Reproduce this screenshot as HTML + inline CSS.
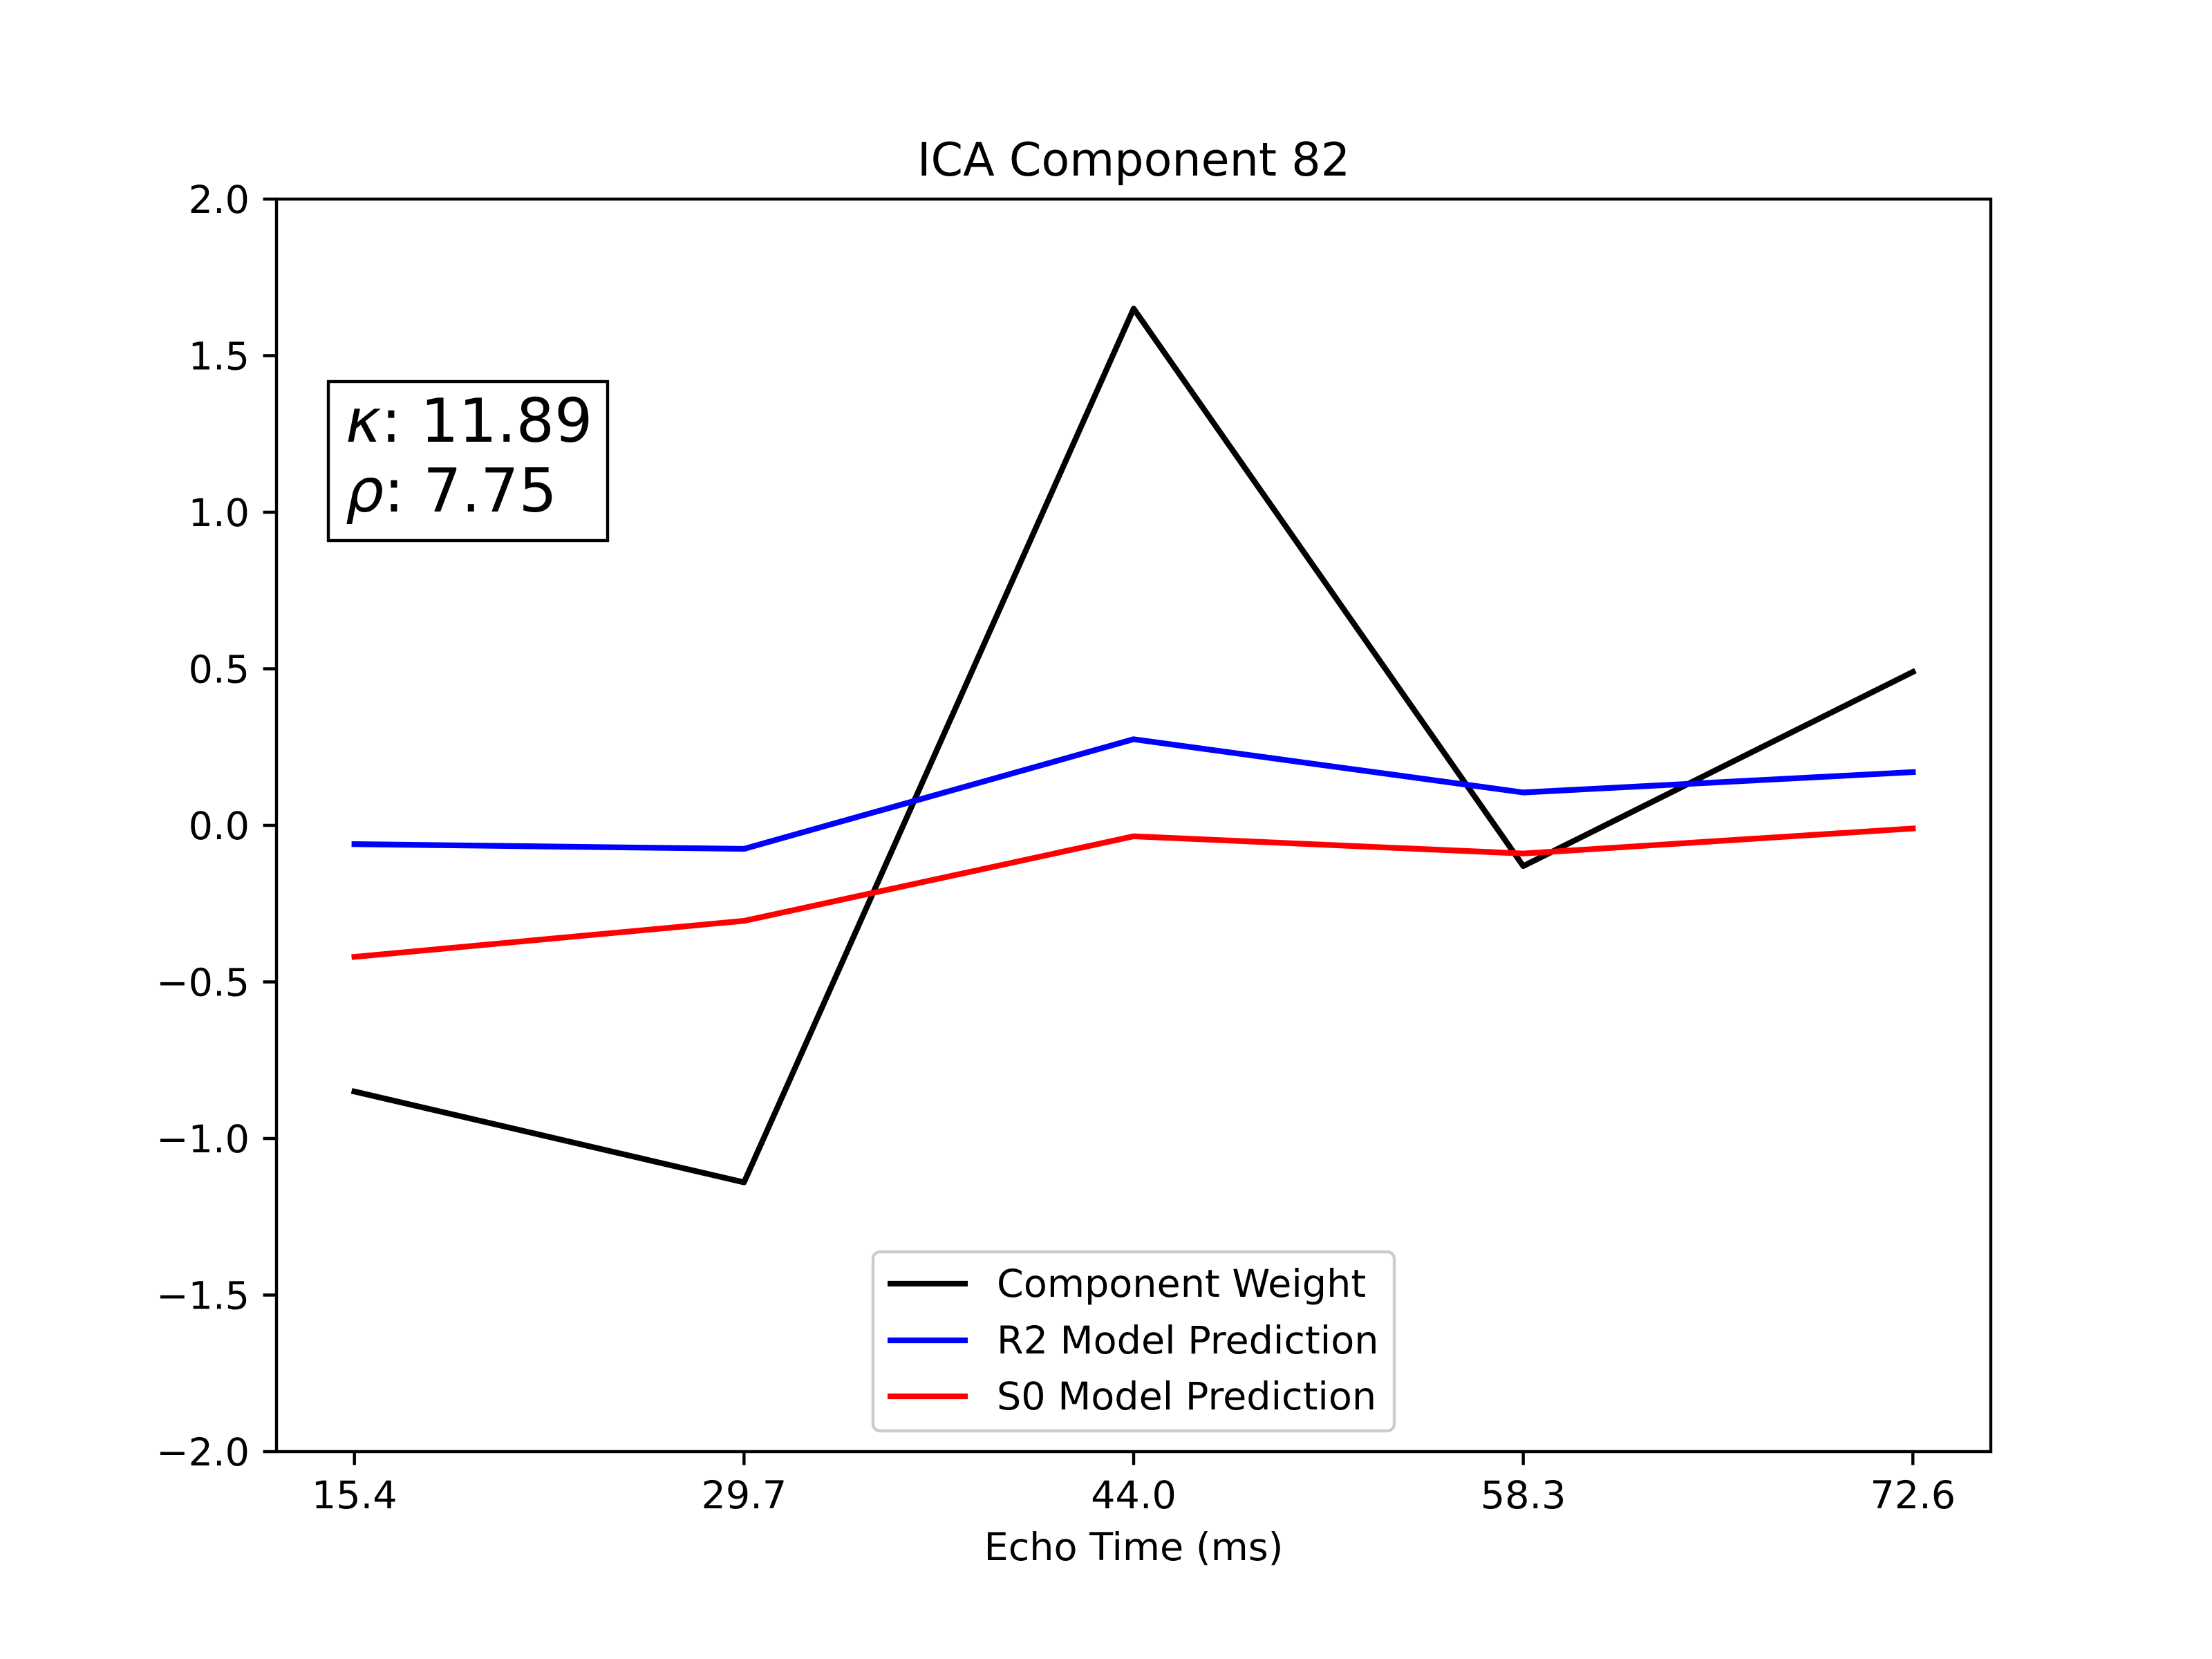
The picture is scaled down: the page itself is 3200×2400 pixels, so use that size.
<!DOCTYPE html>
<html><head><meta charset="utf-8"><style>
html,body{margin:0;padding:0;background:#fff}
svg{display:block}
text{font-family:"DejaVu Sans","Liberation Sans",sans-serif;fill:#000}
</style></head><body>
<svg id="chart" width="3200" height="2400" viewBox="0 0 3200 2400" xmlns="http://www.w3.org/2000/svg">
<rect width="3200" height="2400" fill="#fff"/>
<text x="1640" y="254" font-size="66.7" text-anchor="middle">ICA Component 82</text>
<g id="plot"></g>
<text x="1640" y="2257" font-size="55.6" text-anchor="middle">Echo Time (ms)</text>
<g>
<rect x="475" y="552" width="404" height="230" fill="#fff" stroke="#000" stroke-width="4.4"/>
<text x="500" y="639" font-size="87"><tspan font-style="italic">κ</tspan>: 11.89</text>
<text x="500" y="740" font-size="87"><tspan font-style="italic">ρ</tspan>: 7.75</text>
</g>
<g>
<rect x="1263" y="1811" width="754" height="259" rx="10" fill="#fff" fill-opacity="0.8" stroke="#ccc" stroke-width="4.4"/>
<line x1="1284" y1="1857" x2="1400" y2="1857" stroke="#000" stroke-width="8.3"/>
<text x="1442" y="1876" font-size="55.6">Component Weight</text>
<line x1="1284" y1="1939" x2="1400" y2="1939" stroke="#0000ff" stroke-width="8.3"/>
<text x="1442" y="1958" font-size="55.6">R2 Model Prediction</text>
<line x1="1284" y1="2020" x2="1400" y2="2020" stroke="#ff0000" stroke-width="8.3"/>
<text x="1442" y="2039" font-size="55.6">S0 Model Prediction</text>
</g>
</svg>
<script>
const categories = [15.4, 29.7, 44.0, 58.3, 72.6];
const xTickLabels = ["15.4", "29.7", "44.0", "58.3", "72.6"];
const componentWeight = [-0.85, -1.14, 1.65, -0.13, 0.49];
const r2Prediction = [-0.06, -0.075, 0.275, 0.105, 0.17];
const s0Prediction = [-0.42, -0.305, -0.035, -0.09, -0.01];
const yTicks = [-2.0, -1.5, -1.0, -0.5, 0.0, 0.5, 1.0, 1.5, 2.0];

const L = 400, R = 2880, T = 288, B = 2100;
const xmin = 15.4 - (72.6 - 15.4) * 0.05, xmax = 72.6 + (72.6 - 15.4) * 0.05;
const ymin = -2, ymax = 2;
function xs(v){ return L + (v - xmin) / (xmax - xmin) * (R - L); }
function ys(v){ return B - (v - ymin) / (ymax - ymin) * (B - T); }
const NS = "http://www.w3.org/2000/svg";
const g = document.getElementById('plot');
function mk(tag, attrs){ const e = document.createElementNS(NS, tag); for (const k in attrs) e.setAttribute(k, attrs[k]); g.appendChild(e); return e; }

function series(vals, color, name){
  const pts = vals.map((v, i) => xs(categories[i]) + ',' + ys(v)).join(' ');
  const p = mk('polyline', {points: pts, fill: 'none', stroke: color, 'stroke-width': 8.3, 'stroke-linejoin': 'round', 'stroke-linecap': 'square'});
  
  
}
series(componentWeight, '#000', 'component-weight-line');
series(r2Prediction, '#0000ff', 'r2-prediction-line');
series(s0Prediction, '#ff0000', 's0-prediction-line');

const frame = mk('rect', {x: L, y: T, width: R - L, height: B - T, fill: 'none', stroke: '#000', 'stroke-width': 4.4});



categories.forEach((c, i) => {
  const x = xs(c);
  const t = mk('line', {x1: x, y1: B, x2: x, y2: B + 19.4, stroke: '#000', 'stroke-width': 4.4});
  
  
  const lb = mk('text', {x: x, y: B + 82, 'font-size': 55.6, 'text-anchor': 'middle'});
  lb.textContent = xTickLabels[i];
  
  
});
yTicks.forEach(v => {
  const y = ys(v);
  const t = mk('line', {x1: L - 19.4, y1: y, x2: L, y2: y, stroke: '#000', 'stroke-width': 4.4});
  
  
  const lb = mk('text', {x: L - 39, y: y + 20, 'font-size': 55.6, 'text-anchor': 'end'});
  lb.textContent = (v < 0 ? '\u2212' : '') + Math.abs(v).toFixed(1);
  
  
});
</script>
</body></html>
